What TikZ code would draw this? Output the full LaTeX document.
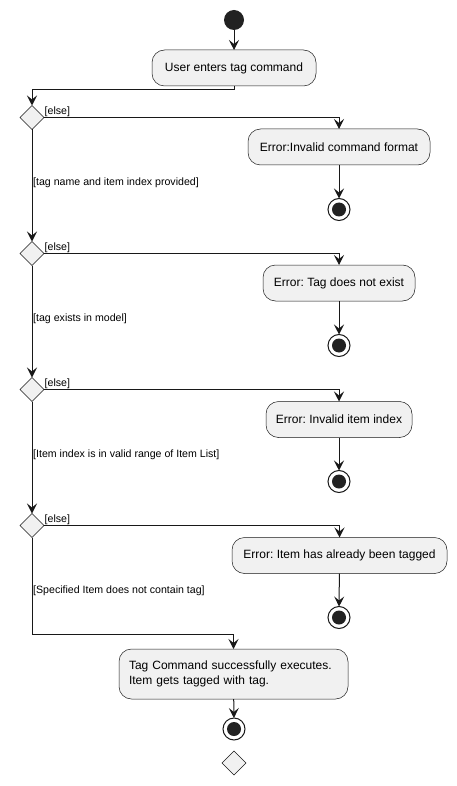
\documentclass[tikz,border=0pt]{standalone}
\usepackage{fontspec}
\setmainfont{Liberation Sans}
\usetikzlibrary{arrows.meta,shapes.geometric}
\definecolor{fillc}{HTML}{F1F1F1}
\definecolor{linec}{HTML}{181818}
\definecolor{dotc}{HTML}{222222}
\frenchspacing
\tikzset{
 act/.style={draw=linec, line width=0.5pt, fill=fillc, rounded corners=12.5pt, minimum height=36pt, inner sep=0pt, outer sep=0pt, font=\fontsize{12}{15}\selectfont},
 dec/.style={draw=linec, line width=0.5pt, fill=fillc, diamond, minimum width=24pt, minimum height=24pt, inner sep=0pt, outer sep=0pt},
 startn/.style={circle, fill=dotc, minimum size=20pt, inner sep=0pt, outer sep=0pt},
 endn/.style={circle, draw=linec, fill=white, line width=1pt, minimum size=22pt, inner sep=0pt, outer sep=0pt, path picture={\fill[dotc] (path picture bounding box.center) circle (7pt);}},
 flow/.style={draw=linec, line width=1pt, -{Stealth[length=10pt,width=10pt,inset=4pt]}},
 lbl/.style={font=\fontsize{10.6}{13}\selectfont, inner sep=0pt, anchor=base west},
}
\begin{document}
\begin{tikzpicture}[x=1pt,y=-1pt]
\useasboundingbox[fill=white] (0,0) rectangle (457,786);
% start and first activity
\node[startn] (s) at (234,20) {};
\node[act, minimum width=164pt] (a1) at (234,68) {User enters tag command};
% decisions
\node[dec] (d1) at (32,117.5) {};
\node[dec] (d2) at (32,253.5) {};
\node[dec] (d3) at (32,389.5) {};
\node[dec] (d4) at (32,525.5) {};
% error activities
\node[act, minimum width=182pt] (e1) at (339,147) {Error:Invalid command format};
\node[act, minimum width=152pt] (e2) at (339,283) {Error: Tag does not exist};
\node[act, minimum width=146pt] (e3) at (339,419.5) {Error: Invalid item index};
\node[act, minimum width=215pt] (e4) at (339.5,555.5) {Error: Item has already been tagged};
% error ends
\node[endn] (x1) at (339,209.5) {};
\node[endn] (x2) at (339,345.5) {};
\node[endn] (x3) at (339,481.5) {};
\node[endn] (x4) at (339,617.5) {};
% final activity
\node[act, minimum height=50pt, text width=209pt, align=left, inner xsep=10pt, rounded corners=12.5pt] (a2) at (233.5,674) {Tag Command successfully executes.\\Item gets tagged with tag.};
\node[endn] (xf) at (234,729) {};
\node[dec] (dl) at (234,763) {};
% junction coordinates
\coordinate (j0) at (32,90);
\coordinate (j1) at (32,634);
% connectors
\draw[flow] (s) -- (a1);
\draw[flow] (a1.south) |- (j0) -- (d1.north);
\draw[flow] (d1.east) -| (e1.north);
\draw[flow] (d2.east) -| (e2.north);
\draw[flow] (d3.east) -| (e3.north);
\draw[flow] (d4.east) -| (e4.north);
\draw[flow] (e1) -- (x1);
\draw[flow] (e2) -- (x2);
\draw[flow] (e3) -- (x3);
\draw[flow] (e4) -- (x4);
\draw[flow] (d1.south) -- (d2.north);
\draw[flow] (d2.south) -- (d3.north);
\draw[flow] (d3.south) -- (d4.north);
\draw[flow] (d4.south) -- (j1) -| (a2.north);
\draw[flow] (a2) -- (xf);
% labels
\node[lbl] (l1e) at (44.5,114.5) {[else]};
\node[lbl] (l2e) at (44.5,250.5) {[else]};
\node[lbl] (l3e) at (44.5,386.5) {[else]};
\node[lbl] (l4e) at (44.5,522.5) {[else]};
\node[lbl] (l1) at (33,185.5) {[tag name and item index provided]};
\node[lbl] (l2) at (33,321) {[tag exists in model]};
\node[lbl] (l3) at (33,457) {[Item index is in valid range of Item List]};
\node[lbl] (l4) at (33,593) {[Specified Item does not contain tag]};
\end{tikzpicture}
\end{document}
